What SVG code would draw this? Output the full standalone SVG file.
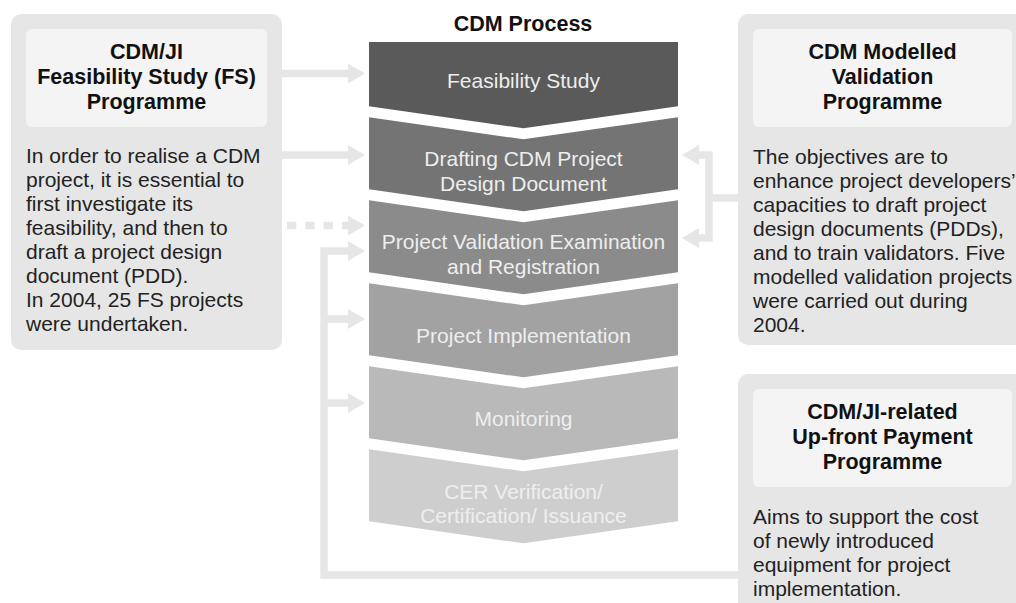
<svg xmlns="http://www.w3.org/2000/svg" width="1016" height="603" viewBox="0 0 1016 603">
<style>
.panel{fill:#e6e6e6}
.inner{fill:#f4f4f4}
.title{font-family:"Liberation Sans",Arial,sans-serif;font-weight:bold;font-size:21.5px;fill:#111;text-anchor:middle}
.body{font-family:"Liberation Sans",Arial,sans-serif;font-size:21px;fill:#222}
.step{font-family:"Liberation Sans",Arial,sans-serif;font-size:21px;fill:#eeeeee;text-anchor:middle}
.conn{fill:none;stroke:#e6e6e6;stroke-width:7.5}
.head{fill:#e6e6e6}
</style>
<rect width="1016" height="603" fill="#ffffff"/>

<g id="connectors">
  <path class="conn" d="M282,73.5 H349"/>
  <polygon class="head" points="348,63.5 365,73.5 348,83.5"/>
  <path class="conn" d="M282,155 H349"/>
  <polygon class="head" points="348,145 365,155 348,165"/>
  <path class="conn" d="M287,225.5 H349" stroke-dasharray="9.3 9"/>
  <polygon class="head" points="348,215.5 365,225.5 348,235.5"/>
  <path class="conn" d="M738,575 H324 V251 H349"/>
  <polygon class="head" points="348,241 365,251 348,261"/>
  <path class="conn" d="M324,319 H349"/>
  <polygon class="head" points="348,309 365,319 348,329"/>
  <path class="conn" d="M324,403 H349"/>
  <polygon class="head" points="348,393 365,403 348,413"/>
  <path class="conn" d="M698,155 H709 V238 H698"/>
  <path class="conn" d="M709,198 H738"/>
  <polygon class="head" points="699,145 682,155 699,165"/>
  <polygon class="head" points="699,228 682,238 699,248"/>
</g>

<g id="fs-programme">
  <rect class="panel" x="11" y="14" width="271" height="336" rx="10"/>
  <rect class="inner" x="26" y="29" width="241" height="98" rx="6"/>
  <text class="title" x="146.5" y="59">CDM/JI</text>
  <text class="title" x="146.5" y="84">Feasibility Study (FS)</text>
  <text class="title" x="146.5" y="109">Programme</text>
  <text class="body" x="26" y="163">In order to realise a CDM</text>
  <text class="body" x="26" y="187">project, it is essential to</text>
  <text class="body" x="26" y="211">first investigate its</text>
  <text class="body" x="26" y="235">feasibility, and then to</text>
  <text class="body" x="26" y="259">draft a project design</text>
  <text class="body" x="26" y="283">document (PDD).</text>
  <text class="body" x="26" y="307">In 2004, 25 FS projects</text>
  <text class="body" x="26" y="331">were undertaken.</text>
</g>

<g id="cdm-process">
  <text class="title" x="523" y="31">CDM Process</text>
  <g id="step-1">
    <path d="M369,42 H678 V106.3 L523.5,128.3 L369,106.3 Z" fill="#5a5a5a"/>
    <text class="step" x="523.5" y="88">Feasibility Study</text>
  </g>
  <g id="step-2">
    <path d="M369,117.3 L523.5,139.3 L678,117.3 V189.3 L523.5,211.3 L369,189.3 Z" fill="#747474"/>
    <text class="step" x="523.5" y="166">Drafting CDM Project</text>
    <text class="step" x="523.5" y="191">Design Document</text>
  </g>
  <g id="step-3">
    <path d="M369,200.3 L523.5,222.3 L678,200.3 V272.3 L523.5,294.3 L369,272.3 Z" fill="#8b8b8b"/>
    <text class="step" x="523.5" y="248.5">Project Validation Examination</text>
    <text class="step" x="523.5" y="273.5">and Registration</text>
  </g>
  <g id="step-4">
    <path d="M369,283.3 L523.5,305.3 L678,283.3 V355.3 L523.5,377.3 L369,355.3 Z" fill="#a2a2a2"/>
    <text class="step" x="523.5" y="342.5">Project Implementation</text>
  </g>
  <g id="step-5">
    <path d="M369,366.3 L523.5,388.3 L678,366.3 V438.3 L523.5,460.3 L369,438.3 Z" fill="#b9b9b9"/>
    <text class="step" x="523.5" y="426">Monitoring</text>
  </g>
  <g id="step-6">
    <path d="M369,449.3 L523.5,471.3 L678,449.3 V521.3 L523.5,543.3 L369,521.3 Z" fill="#cecece"/>
    <text class="step" x="523.5" y="498.5">CER Verification/</text>
    <text class="step" x="523.5" y="523">Certification/ Issuance</text>
  </g>
</g>

<g id="validation-programme">
  <rect class="panel" x="738" y="14" width="300" height="331" rx="10"/>
  <rect class="inner" x="753" y="29" width="259" height="98" rx="6"/>
  <text class="title" x="882.5" y="59">CDM Modelled</text>
  <text class="title" x="882.5" y="84">Validation</text>
  <text class="title" x="882.5" y="109">Programme</text>
  <text class="body" x="753" y="163.5">The objectives are to</text>
  <text class="body" x="753" y="187.5">enhance project developers’</text>
  <text class="body" x="753" y="211.5">capacities to draft project</text>
  <text class="body" x="753" y="235.5">design documents (PDDs),</text>
  <text class="body" x="753" y="259.5">and to train validators. Five</text>
  <text class="body" x="753" y="283.5">modelled validation projects</text>
  <text class="body" x="753" y="307.5">were carried out during</text>
  <text class="body" x="753" y="331.5">2004.</text>
</g>

<g id="upfront-programme">
  <rect class="panel" x="738" y="374" width="300" height="260" rx="10"/>
  <rect class="inner" x="753" y="389" width="259" height="98" rx="6"/>
  <text class="title" x="882.5" y="419">CDM/JI-related</text>
  <text class="title" x="882.5" y="444">Up-front Payment</text>
  <text class="title" x="882.5" y="469">Programme</text>
  <text class="body" x="753" y="523.5">Aims to support the cost</text>
  <text class="body" x="753" y="547.5">of newly introduced</text>
  <text class="body" x="753" y="571.5">equipment for project</text>
  <text class="body" x="753" y="595.5">implementation.</text>
</g>
</svg>
